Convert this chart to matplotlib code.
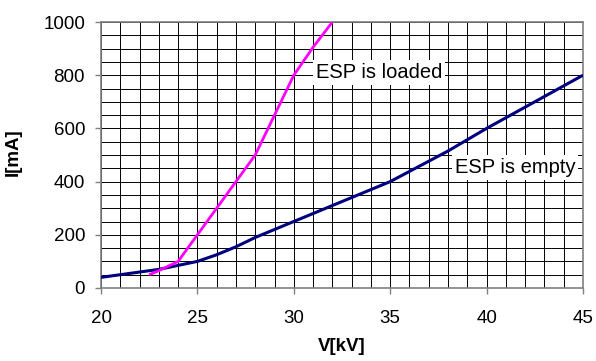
import matplotlib
matplotlib.use("Agg")
import matplotlib.pyplot as plt
from matplotlib.ticker import MultipleLocator

plt.rcParams['font.family'] = ['Liberation Sans', 'DejaVu Sans']

# Data
loaded_v = [22.5, 23, 24, 25, 26, 27, 28, 29, 30, 31, 32]
loaded_i = [50, 65, 100, 200, 300, 400, 500, 650, 800, 905, 1000]

empty_v = [20, 21, 22, 23, 24, 25, 26, 27, 28, 29, 30, 32, 35, 38, 40, 42, 45]
empty_i = [40, 50, 60, 70, 85, 100, 125, 155, 190, 220, 250, 310, 400, 515, 600, 680, 800]

x_ticks = [20, 25, 30, 35, 40, 45]
y_ticks = [0, 200, 400, 600, 800, 1000]
label_loaded = "ESP is loaded"
label_empty = "ESP is empty"

fig = plt.figure(figsize=(5.96, 3.61), dpi=100)
ax = fig.add_axes([101/596, 1-288/361, 482/596, 266/361])

ax.plot(empty_v, empty_i, color='#000080', lw=2.2, solid_capstyle='butt', zorder=3)
ax.plot(loaded_v, loaded_i, color='#FF00FF', lw=2.0, solid_capstyle='butt', zorder=3)

ax.set_xlim(20, 45)
ax.set_ylim(0, 1000)
ax.set_xticks(x_ticks)
ax.set_yticks(y_ticks)
ax.xaxis.set_minor_locator(MultipleLocator(1))
ax.yaxis.set_minor_locator(MultipleLocator(50))
ax.grid(which='both', color='black', lw=0.7, zorder=1)
ax.set_axisbelow(True)

for s in ax.spines.values():
    s.set_color('#808080')
    s.set_linewidth(1.2)

ax.tick_params(which='major', direction='out', length=4.5, width=1, color='#808080',
               labelsize=13.5, labelcolor='black')
ax.tick_params(axis='x', which='major', pad=11.5)
ax.tick_params(axis='y', which='major', pad=7)
ax.tick_params(which='minor', length=0)

ax.set_xlabel("V[kV]", fontsize=13.5, fontweight='bold')
ax.set_ylabel("I[mA]", fontsize=13.5, fontweight='bold')
ax.xaxis.set_label_coords(0.5, -0.188)
ax.yaxis.set_label_coords(-0.164, 0.511)

bbox = dict(boxstyle='square,pad=0.15', facecolor='white', edgecolor='none')
ax.text(31.14, 809, label_loaded, fontsize=14.5, ha='left', va='center', bbox=bbox, zorder=4)
ax.text(38.34, 452, label_empty, fontsize=14.5, ha='left', va='center', bbox=bbox, zorder=4)

fig.savefig("out.png", dpi=100)
